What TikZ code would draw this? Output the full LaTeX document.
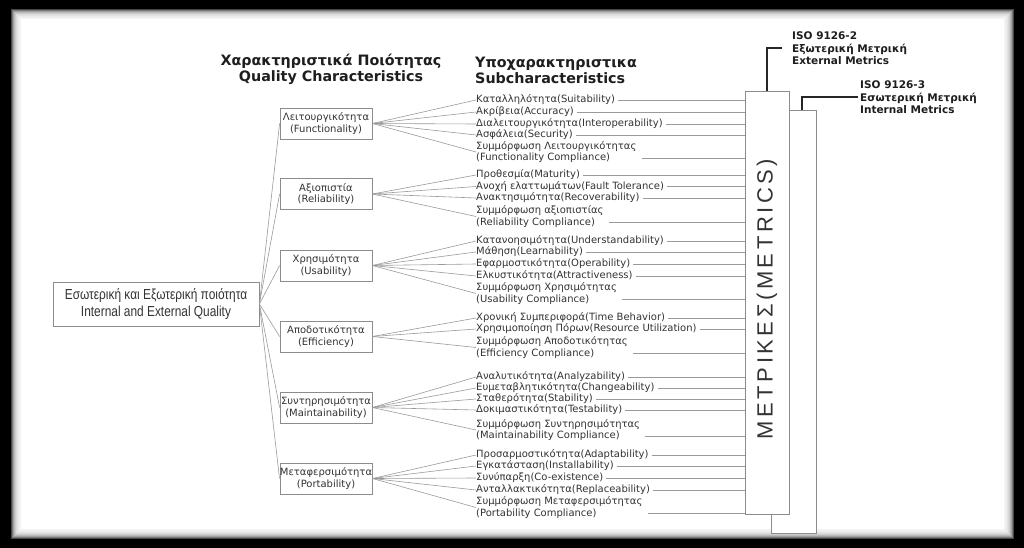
\documentclass[tikz,border=0pt]{standalone}
\usepackage{fontspec}
\setmainfont{DejaVu Sans}
\newfontfamily\rootfont[FakeStretch=0.82]{Liberation Sans}
\newfontfamily\metfont[LetterSpace=16]{Liberation Sans}
\usetikzlibrary{calc}
\definecolor{boxgray}{HTML}{8C8C8C}
\definecolor{linegray}{HTML}{9A9A9A}
\definecolor{txt}{HTML}{333333}
\definecolor{hdr}{HTML}{1E1E1E}
\tikzset{
  qbox/.style={draw=boxgray, line width=0.8pt, minimum width=92pt, minimum height=31pt,
    inner sep=0pt, align=center, text=txt, font=\fontsize{10}{11.5}\selectfont},
  sub/.style={anchor=west, inner sep=0pt, align=left, text=txt, font=\fontsize{10}{11.5}\selectfont},
  link/.style={draw=linegray, line width=0.6pt},
  lead/.style={draw=black!85, line width=1.4pt},
  hdrtext/.style={inner sep=0pt, text=hdr, font=\bfseries\fontsize{14.3}{16}\selectfont},
  iso/.style={anchor=north west, inner sep=0pt, align=left, text=hdr, font=\bfseries\fontsize{10.5}{12.5}\selectfont},
  mbox/.style={draw=boxgray, fill=white, line width=0.8pt, inner sep=0pt},
}
\begin{document}
\begin{tikzpicture}[x=1pt,y=-1pt]
\useasboundingbox (0,0) rectangle (1024,548);
% frame
\fill[black] (0,0) rectangle (1024,548);
\foreach \i in {0,...,9}
  \fill[white,opacity=0.28] (11+\i,9+\i) rectangle (1014-\i,539-\i);
\fill[white] (21,19) rectangle (1004,529);

% headers
\node[hdrtext, align=center] (hq) at (331,69) {Χαρακτηριστικά Ποιότητας\\Quality Characteristics};
\node[hdrtext, align=left, anchor=west] (hs) at (475,70) {Υποχαρακτηριστικα\\Subcharacteristics};

% root
\node[draw=boxgray, line width=0.8pt, minimum width=206pt, minimum height=44pt, inner sep=0pt,
  align=center, text=txt, font=\rootfont\fontsize{14.5}{17}\selectfont] (root) at (156,304)
  {Εσωτερική και Εξωτερική ποιότητα\\Internal and External Quality};

% quality boxes
\node[qbox] (qf) at (326,123.5) {Λειτουργικότητα\\(Functionality)};
\node[qbox] (qr) at (326,194) {Αξιοπιστία\\(Reliability)};
\node[qbox] (qu) at (326,265.5) {Χρησιμότητα\\(Usability)};
\node[qbox] (qe) at (326,336.5) {Αποδοτικότητα\\(Efficiency)};
\node[qbox] (qm) at (326,407.5) {Συντηρησιμότητα\\(Maintainability)};
\node[qbox] (qp) at (326,478.5) {Μεταφερσιμότητα\\(Portability)};

% metrics boxes
\node[mbox, minimum width=45pt, minimum height=423pt] (M2) at (793.5,321.5) {};
\node[mbox, minimum width=44pt, minimum height=423pt] (M) at (767,302.5) {};
\node[rotate=90, inner sep=0pt, text=txt, font=\metfont\fontsize{22}{22}\selectfont] (mt) at (767,299) {ΜΕΤΡΙΚΕΣ(METRICS)};

% subcharacteristics
\node[sub] (f1) at (476,100) {Καταλληλότητα(Suitability)};
\node[sub] (f2) at (476,112) {Ακρίβεια(Accuracy)};
\node[sub] (f3) at (476,124) {Διαλειτουργικότητα(Interoperability)};
\node[sub] (f4) at (476,135) {Ασφάλεια(Security)};
\node[sub] (f5) at (476,152) {Συμμόρφωση Λειτουργικότητας\\(Functionality Compliance)};

\node[sub] (r1) at (476,175) {Προθεσμία(Maturity)};
\node[sub] (r2) at (476,186.5) {Ανοχή ελαττωμάτων(Fault Tolerance)};
\node[sub] (r3) at (476,198) {Ανακτησιμότητα(Recoverability)};
\node[sub] (r4) at (476,216.5) {Συμμόρφωση αξιοπιστίας\\(Reliability Compliance)};

\node[sub] (u1) at (476,241) {Κατανοησιμότητα(Understandability)};
\node[sub] (u2) at (476,252) {Μάθηση(Learnability)};
\node[sub] (u3) at (476,264) {Εφαρμοστικότητα(Operability)};
\node[sub] (u4) at (476,276) {Ελκυστικότητα(Attractiveness)};
\node[sub] (u5) at (476,293.5) {Συμμόρφωση Χρησιμότητας\\(Usability Compliance)};

\node[sub] (e1) at (476,318) {Χρονική Συμπεριφορά(Time Behavior)};
\node[sub] (e2) at (476,329) {Χρησιμοποίηση Πόρων(Resource Utilization)};
\node[sub] (e3) at (476,347.5) {Συμμόρφωση Αποδοτικότητας\\(Efficiency Compliance)};

\node[sub] (m1) at (476,377) {Αναλυτικότητα(Analyzability)};
\node[sub] (m2) at (476,388) {Ευμεταβλητικότητα(Changeability)};
\node[sub] (m3) at (476,399) {Σταθερότητα(Stability)};
\node[sub] (m4) at (476,410) {Δοκιμαστικότητα(Testability)};
\node[sub] (m5) at (476,430) {Συμμόρφωση Συντηρησιμότητας\\(Maintainability Compliance)};

\node[sub] (p1) at (476,455) {Προσαρμοστικότητα(Adaptability)};
\node[sub] (p2) at (476,466) {Εγκατάσταση(Installability)};
\node[sub] (p3) at (476,478) {Συνύπαρξη(Co-existence)};
\node[sub] (p4) at (476,490) {Ανταλλακτικότητα(Replaceability)};
\node[sub] (p5) at (476,507.5) {Συμμόρφωση Μεταφερσιμότητας\\(Portability Compliance)};

% root to quality
\foreach \q in {qf,qr,qu,qe,qm,qp}
  \draw[link] (root.east) -- (\q.west);
% fans
\foreach \s in {f1,f2,f3,f4,f5} \draw[link] (qf.east) -- (\s.west);
\foreach \s in {r1,r2,r3,r4} \draw[link] (qr.east) -- (\s.west);
\foreach \s in {u1,u2,u3,u4,u5} \draw[link] (qu.east) -- (\s.west);
\foreach \s in {e1,e2,e3} \draw[link] (qe.east) -- (\s.west);
\foreach \s in {m1,m2,m3,m4,m5} \draw[link] (qm.east) -- (\s.west);
\foreach \s in {p1,p2,p3,p4,p5} \draw[link] (qp.east) -- (\s.west);
% to metrics
\foreach \s in {f1,f2,f3,f4,r1,r2,r3,u1,u2,u3,u4,e1,e2,m1,m2,m3,m4,p1,p2,p3,p4}
  \draw[link] ([xshift=3pt]\s.east) -- (\s.east -| M.west);
\foreach \s in {f5,r4,u5,e3,m5,p5}{
  \coordinate (\s-c) at ([xshift=5pt,yshift=5pt]\s.south east);
  \draw[link] (\s-c) -- (\s-c -| M.west);
}

% ISO labels
\node[iso] (iso2) at (792,32) {ISO 9126-2\\Εξωτερική Μετρική\\External Metrics};
\node[iso] (iso3) at (860,81) {ISO 9126-3\\Εσωτερική Μετρική\\Internal Metrics};
\coordinate (i2end) at (782,48);
\coordinate (m2top) at (802,110);
\coordinate (i3end) at (858,97);
\draw[lead] (M.north) |- (i2end);
\draw[lead] (m2top) |- (i3end);
\end{tikzpicture}
\end{document}
